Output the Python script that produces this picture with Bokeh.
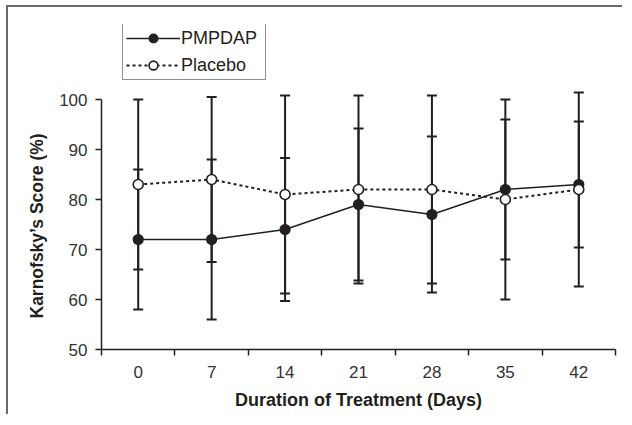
import numpy as np
from bokeh.plotting import figure
from bokeh.models import (ColumnDataSource, Whisker, TeeHead, Legend, LegendItem,
                          FixedTicker, Range1d, Title)
from bokeh.embed import file_html
from bokeh.resources import INLINE

# ---- data ----
days = [0, 7, 14, 21, 28, 35, 42]
pmpdap_mean = [72, 72, 74, 79, 77, 82, 83]
pmpdap_sd = [14, 16, 14.3, 15.2, 15.6, 14, 12.6]
placebo_mean = [83, 84, 81, 82, 82, 80, 82]
placebo_sd = [17, 16.5, 19.8, 18.8, 18.8, 20, 19.4]
y_ticks = [50, 60, 70, 80, 90, 100]
series_names = ["PMPDAP", "Placebo"]
x_title = "Duration of Treatment (Days)"
y_title = "Karnofsky’s Score (%)"

INK = "#231f20"
FONT = "Liberation Sans"

def make_src(mean, sd):
    m = np.array(mean, dtype=float)
    s = np.array(sd, dtype=float)
    return ColumnDataSource(dict(x=days, y=m, upper=m + s, lower=m - s))

src_a = make_src(pmpdap_mean, pmpdap_sd)
src_b = make_src(placebo_mean, placebo_sd)

half = (days[1] - days[0]) / 2
boundaries = [d - half for d in days] + [days[-1] + half]

p = figure(width=616, height=409, output_backend="svg", toolbar_location=None,
           x_range=Range1d(days[0] - half, days[-1] + half),
           y_range=Range1d(50, 115),
           min_border_left=93, min_border_right=9, min_border_top=17,
           min_border_bottom=67)
p.styles = {"position": "relative", "left": "8px", "top": "7px",
            "box-shadow": "-2px -2px 0 0 #6b6b6b"}
p.outline_line_color = None
p.xgrid.grid_line_color = None
p.ygrid.grid_line_color = None
p.background_fill_color = "white"
p.border_fill_color = "white"

# error bars
for src in (src_a, src_b):
    w = Whisker(source=src, base="x", upper="upper", lower="lower",
                line_color=INK, line_width=2,
                upper_head=TeeHead(size=10, line_color=INK, line_width=2),
                lower_head=TeeHead(size=10, line_color=INK, line_width=2))
    p.add_layout(w)

la = p.line("x", "y", source=src_a, line_color=INK, line_width=1.4)
sa = p.scatter("x", "y", source=src_a, size=10, fill_color=INK, line_color=INK,
               line_width=1.2)
lb = p.line("x", "y", source=src_b, line_color=INK, line_width=2, line_dash="3 3")
sb = p.scatter("x", "y", source=src_b, size=10, fill_color="white", line_color=INK,
               line_width=1.6)

# axes
p.yaxis.ticker = FixedTicker(ticks=y_ticks)
p.yaxis.bounds = (y_ticks[0], y_ticks[-1])
p.xaxis.ticker = FixedTicker(ticks=days, minor_ticks=boundaries)
p.xaxis.axis_label = x_title

for ax in (p.xaxis[0], p.yaxis[0]):
    ax.axis_line_color = INK
    ax.axis_line_width = 1.5
    ax.major_tick_line_color = INK
    ax.major_tick_line_width = 1.5
    ax.minor_tick_line_color = INK
    ax.minor_tick_line_width = 1.5
    ax.major_label_text_font = FONT
    ax.major_label_text_font_size = "17px"
    ax.major_label_text_color = "#333333"
    ax.axis_label_text_font = FONT
    ax.axis_label_text_font_size = "18px"
    ax.axis_label_text_font_style = "bold"
    ax.axis_label_text_color = INK

p.yaxis.major_tick_out = 6
p.yaxis.major_tick_in = 0
p.yaxis.minor_tick_out = 0
p.yaxis.minor_tick_in = 0
p.yaxis.major_label_standoff = 8

p.xaxis.major_tick_out = 0
p.xaxis.major_tick_in = 0
p.xaxis.minor_tick_out = 6
p.xaxis.minor_tick_in = 0
p.xaxis.major_label_standoff = 10
p.xaxis.axis_label_standoff = 9

# y-axis title as a side title so it can be placed along the axis
yt = Title(text=y_title, align="left", offset=31, standoff=20,
           text_font=FONT, text_font_size="17.5px", text_font_style="bold",
           text_color=INK)
p.add_layout(yt, "left")

legend = Legend(items=[LegendItem(label=series_names[0], renderers=[la, sa]),
                       LegendItem(label=series_names[1], renderers=[lb, sb])],
                location=(21, 269))
legend.border_line_color = INK
legend.border_line_width = 1.2
legend.background_fill_color = "white"
legend.background_fill_alpha = 1
legend.padding = 3
legend.spacing = 5
legend.margin = 0
legend.glyph_width = 54
legend.glyph_height = 22
legend.label_height = 22
legend.label_width = 81
legend.label_standoff = 1
legend.label_text_font = FONT
legend.label_text_font_size = "18px"
legend.label_text_color = INK
p.add_layout(legend, "center")

open("out.html", "w").write(file_html(p, INLINE))
